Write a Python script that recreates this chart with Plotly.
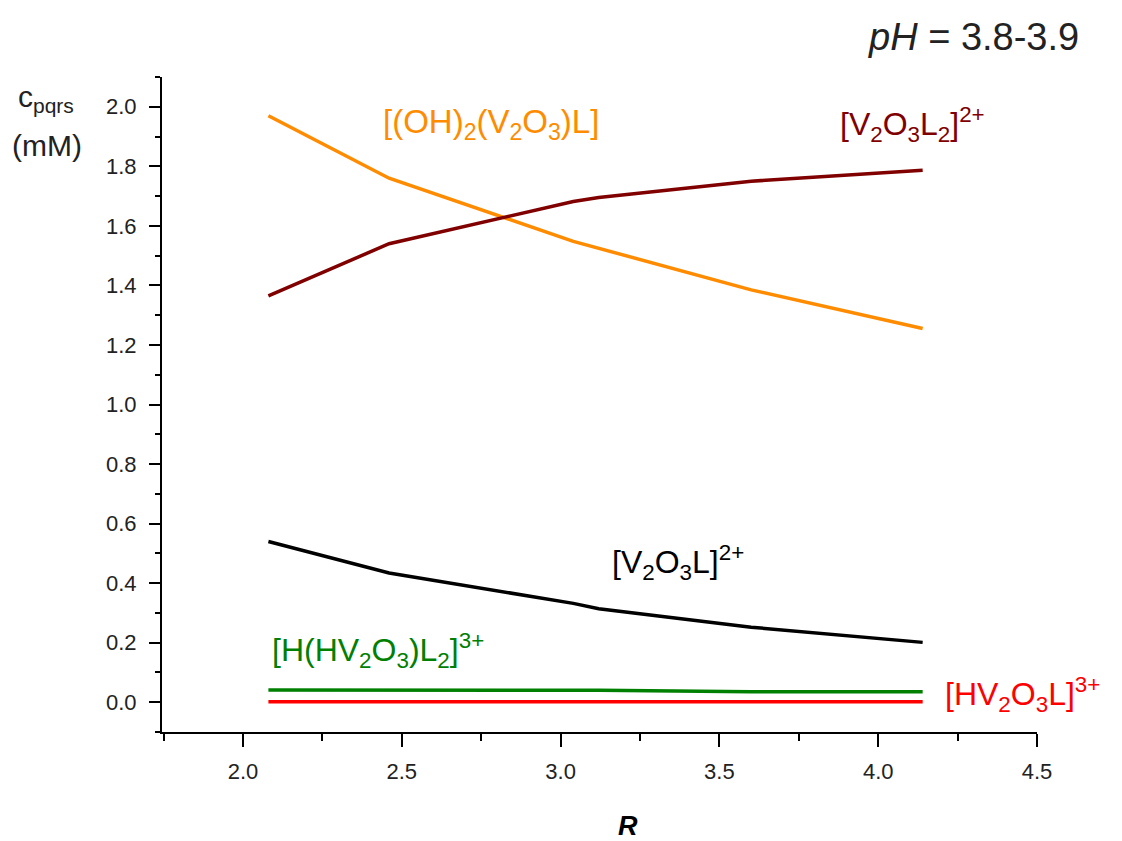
import plotly.graph_objects as go

# Data
R = [2.08, 2.46, 3.04, 3.12, 3.60, 4.14]
oh2_v2o3_l = [1.97, 1.76, 1.548, 1.525, 1.385, 1.255]
v2o3l2 = [1.365, 1.540, 1.682, 1.695, 1.750, 1.787]
v2o3l = [0.540, 0.434, 0.332, 0.314, 0.252, 0.201]
h_hv2o3_l2 = [0.041, 0.041, 0.041, 0.040, 0.035, 0.035]
hv2o3l = [0.002, 0.002, 0.002, 0.002, 0.002, 0.002]

x_ticks = [2.0, 2.5, 3.0, 3.5, 4.0, 4.5]
x_ticktext = ["2.0", "2.5", "3.0", "3.5", "4.0", "4.5"]
y_ticks = [0, 0.2, 0.4, 0.6, 0.8, 1.0, 1.2, 1.4, 1.6, 1.8, 2.0]
y_ticktext = ["0.0", "0.2", "0.4", "0.6", "0.8", "1.0", "1.2", "1.4", "1.6", "1.8", "2.0"]

series = [
    ("[(OH)2(V2O3)L]", oh2_v2o3_l, "#FF8C00"),
    ("[V2O3L2]2+", v2o3l2, "#800000"),
    ("[V2O3L]2+", v2o3l, "#000000"),
    ("[H(HV2O3)L2]3+", h_hv2o3_l2, "#008000"),
    ("[HV2O3L]3+", hv2o3l, "#FF0000"),
]

W, H = 1122, 841
ML, MR, MT, MB = 162, 85, 77, 109
PW, PH = W - ML - MR, H - MT - MB


def px(x):
    return (x - ML) / PW


def py(y):
    return (H - MB - y) / PH


fig = go.Figure()
for name, ys, col in series:
    fig.add_trace(go.Scatter(x=R, y=ys, mode="lines", name=name,
                             line=dict(color=col, width=3.5), showlegend=False))

FONT = "Liberation Sans, Arial, sans-serif"

labels = [
    ("[(OH)<sub>2</sub>(V<sub>2</sub>O<sub>3</sub>)L]", 381, 124, "#FF8C00", 33),
    ("[V<sub>2</sub>O<sub>3</sub>L<sub>2</sub>]<sup>2+</sup>", 838, 124, "#800000", 32),
    ("[V<sub>2</sub>O<sub>3</sub>L]<sup>2+</sup>", 610, 562, "#000000", 32),
    ("[H(HV<sub>2</sub>O<sub>3</sub>)L<sub>2</sub>]<sup>3+</sup>", 270, 650, "#008000", 32),
    ("[HV<sub>2</sub>O<sub>3</sub>L]<sup>3+</sup>", 943, 694, "#FF0000", 32),
]
for txt, x, y, col, sz in labels:
    fig.add_annotation(x=px(x), y=py(y), xref="paper", yref="paper", text=txt, showarrow=False,
                       xanchor="left", yanchor="middle",
                       font=dict(family=FONT, size=sz, color=col))

fig.add_annotation(x=px(973), y=py(37), xref="paper", yref="paper",
                   xanchor="center", yanchor="middle",
                   text="<i>pH</i> = 3.8-3.9", showarrow=False,
                   font=dict(family=FONT, size=38, color="#222222"))
fig.add_annotation(x=px(16), y=py(98), xref="paper", yref="paper",
                   xanchor="left", yanchor="middle",
                   text="c<sub>pqrs</sub>", showarrow=False,
                   font=dict(family=FONT, size=30, color="#222222"))
fig.add_annotation(x=px(10), y=py(145), xref="paper", yref="paper",
                   xanchor="left", yanchor="middle",
                   text="(mM)", showarrow=False,
                   font=dict(family=FONT, size=30, color="#222222"))
fig.add_annotation(x=px(628), y=py(826), xref="paper", yref="paper",
                   xanchor="center", yanchor="middle",
                   text="<b><i>R</i></b>", showarrow=False,
                   font=dict(family=FONT, size=27, color="black"))

fig.update_layout(
    width=W, height=H,
    margin=dict(l=ML, r=MR, t=MT, b=MB),
    paper_bgcolor="white", plot_bgcolor="white",
    font=dict(family=FONT, size=22, color="#222222"),
    xaxis=dict(range=[1.745, 4.5], tickvals=x_ticks, ticktext=x_ticktext,
               showgrid=False, zeroline=False, showline=True, linecolor="black", linewidth=2,
               ticks="outside", ticklen=13, tickwidth=2, tickcolor="black",
               minor=dict(tickvals=[1.75, 2.25, 2.75, 3.25, 3.75, 4.25], ticks="outside",
                          ticklen=7, tickwidth=2, tickcolor="black"),
               ticklabelstandoff=6,
               tickfont=dict(size=22)),
    yaxis=dict(range=[-0.1, 2.1], tickvals=y_ticks, ticktext=y_ticktext,
               showgrid=False, zeroline=False, showline=True, linecolor="black", linewidth=2,
               ticks="outside", ticklen=11, tickwidth=2, tickcolor="black",
               minor=dict(tickvals=[-0.1, 0.1, 0.3, 0.5, 0.7, 0.9, 1.1, 1.3, 1.5, 1.7, 1.9, 2.1],
                          ticks="outside", ticklen=5, tickwidth=2, tickcolor="black"),
               ticklabelstandoff=8,
               tickfont=dict(size=22)),
)

fig.write_html("out.html")
